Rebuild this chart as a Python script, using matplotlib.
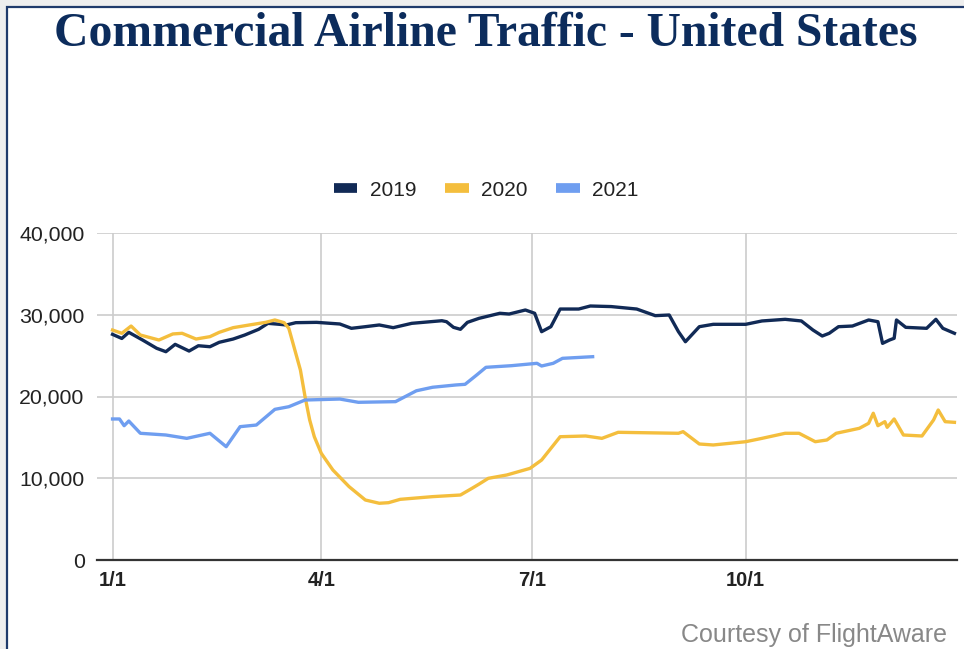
import matplotlib.pyplot as plt
from matplotlib.lines import Line2D
from matplotlib.patches import Rectangle

# day of year (1/1 = 0) and daily flights
days_2019 = [0, 4, 7, 13, 19, 23, 27, 33, 37, 42, 46, 52, 57, 63, 67, 72, 75, 79, 88, 98,
             103, 109, 115, 121, 129, 142, 144, 147, 150, 153, 158, 167, 171, 178, 182, 185,
             189, 193, 201, 206, 215, 226, 234, 240, 244, 247, 253, 259, 273, 280, 290, 297,
             302, 306, 309, 313, 319, 326, 330, 332, 335, 337, 338, 342, 351, 355, 358, 363]
traffic_2019 = [27600, 27100, 27850, 26900, 25900, 25480, 26380, 25560, 26210, 26090,
                26630, 27030, 27520, 28220, 28950, 28830, 28750, 29030, 29070, 28870,
                28340, 28540, 28750, 28420, 28950, 29270, 29150, 28460, 28220, 29070,
                29560, 30180, 30090, 30580, 30180, 27930, 28540, 30700, 30700, 31070,
                31000, 30700, 29890, 29970, 27930, 26700, 28540, 28830, 28830, 29240,
                29440, 29240, 28130, 27400, 27730, 28540, 28620, 29360, 29150, 26500,
                26910, 27120, 29360, 28460, 28340, 29440, 28340, 27730]

days_2020 = [0, 4, 8, 12, 20, 26, 30, 36, 42, 46, 52, 59, 66, 70, 74, 76, 79, 81, 83, 85,
             87, 90, 95, 102, 109, 115, 119, 124, 138, 150, 155, 158, 162, 170, 180, 185,
             193, 204, 211, 218, 244, 246, 253, 259, 273, 280, 290, 296, 303, 308, 312, 322,
             326, 328, 330, 333, 334, 337, 341, 349, 354, 356, 359, 363]
traffic_2020 = [28130, 27730, 28620, 27520, 26910, 27650, 27730, 27030, 27320, 27850,
                28420, 28750, 29070, 29360, 29030, 28340, 25280, 23240, 19980, 17130,
                15080, 13050, 11010, 8970, 7340, 6940, 7010, 7420, 7750, 7950,
                8770, 9280, 9990, 10400, 11210, 12230, 15080, 15170, 14880, 15620,
                15500, 15700, 14190, 14070, 14470, 14880, 15500, 15500, 14470, 14680,
                15500, 16110, 16720, 17950, 16430, 16920, 16230, 17250, 15290, 15170,
                17130, 18350, 16920, 16840]

days_2021 = [0, 3, 5, 7, 12, 23, 32, 42, 49, 55, 62, 70, 76, 83, 98, 106, 122, 131, 138,
             148, 152, 157, 161, 172, 183, 185, 190, 194, 207]
traffic_2021 = [17250, 17250, 16430, 17000, 15500, 15290, 14880, 15500, 13860, 16310,
                16510, 18430, 18750, 19570, 19690, 19290, 19370, 20700, 21130, 21410,
                21490, 22630, 23570, 23770, 24060, 23730, 24060, 24670, 24870]

tick_days = [0, 90, 181, 273]
tick_labels = ["1/1", "4/1", "7/1", "10/1"]
y_ticks = [0, 10000, 20000, 30000, 40000]

series = [("2019", days_2019, traffic_2019, "#112a56"),
          ("2020", days_2020, traffic_2020, "#f4be3d"),
          ("2021", days_2021, traffic_2021, "#6f9ef0")]

plt.rcParams["font.family"] = ["Liberation Sans", "DejaVu Sans"]

fig = plt.figure(figsize=(9.64, 6.49), dpi=100)
fig.patch.set_facecolor("#eeeeee")
# white card with a navy edge on the left and top
fig.patches.append(Rectangle((6.5 / 964, -0.05), 1.1, (649 - 6.5) / 649 + 0.05,
                             transform=fig.transFigure, facecolor="white",
                             edgecolor="#1f3a6b", linewidth=1.6, zorder=-5))

ax = fig.add_axes([97 / 964, (649 - 560) / 649, (957 - 97) / 964, (560 - 233) / 649])
ax.set_zorder(2)

for name, d, v, c in series:
    ax.plot(d, v, color=c, lw=2.4, label=name, solid_joinstyle="round")

ax.set_xlim(-6.7, 364.1)
ax.set_ylim(0, 40000)
ax.set_yticks(y_ticks)
ax.set_yticklabels([f"{t:,}" for t in y_ticks])
ax.set_xticks(tick_days)
ax.set_xticklabels(tick_labels, fontweight="bold")
ax.grid(True, color="#cccccc", lw=1.2)
ax.set_axisbelow(True)
for s in ["top", "right", "left"]:
    ax.spines[s].set_visible(False)
ax.spines["bottom"].set_color("#333333")
ax.spines["bottom"].set_linewidth(1.6)
ax.tick_params(axis="both", length=0, labelsize=14.5, labelcolor="#222222")
ax.tick_params(axis="y", labelsize=15.3, pad=9)
ax.tick_params(axis="x", pad=8)
ax.set_facecolor("none")

handles = [Line2D([], [], color=c, lw=7, solid_capstyle="butt") for _, _, _, c in series]
fig.legend(handles, [s[0] for s in series], loc="center", bbox_to_anchor=(486 / 964, 1 - 190 / 649),
           ncol=3, frameon=False, fontsize=15, handlelength=1.15, handletextpad=0.6,
           columnspacing=1.35, labelcolor="#222222")

fig.text(486 / 964, 1 - 46 / 649, "Commercial Airline Traffic - United States",
         ha="center", va="baseline", fontsize=34.3, fontweight="bold",
         family=["Liberation Serif", "DejaVu Serif"], color="#0c2c5c")
fig.text(947 / 964, 1 - 635 / 649, "Courtesy of FlightAware", ha="right", va="center",
         fontsize=18, color="#888888")

fig.savefig("out.png", dpi=100, facecolor=fig.get_facecolor())
